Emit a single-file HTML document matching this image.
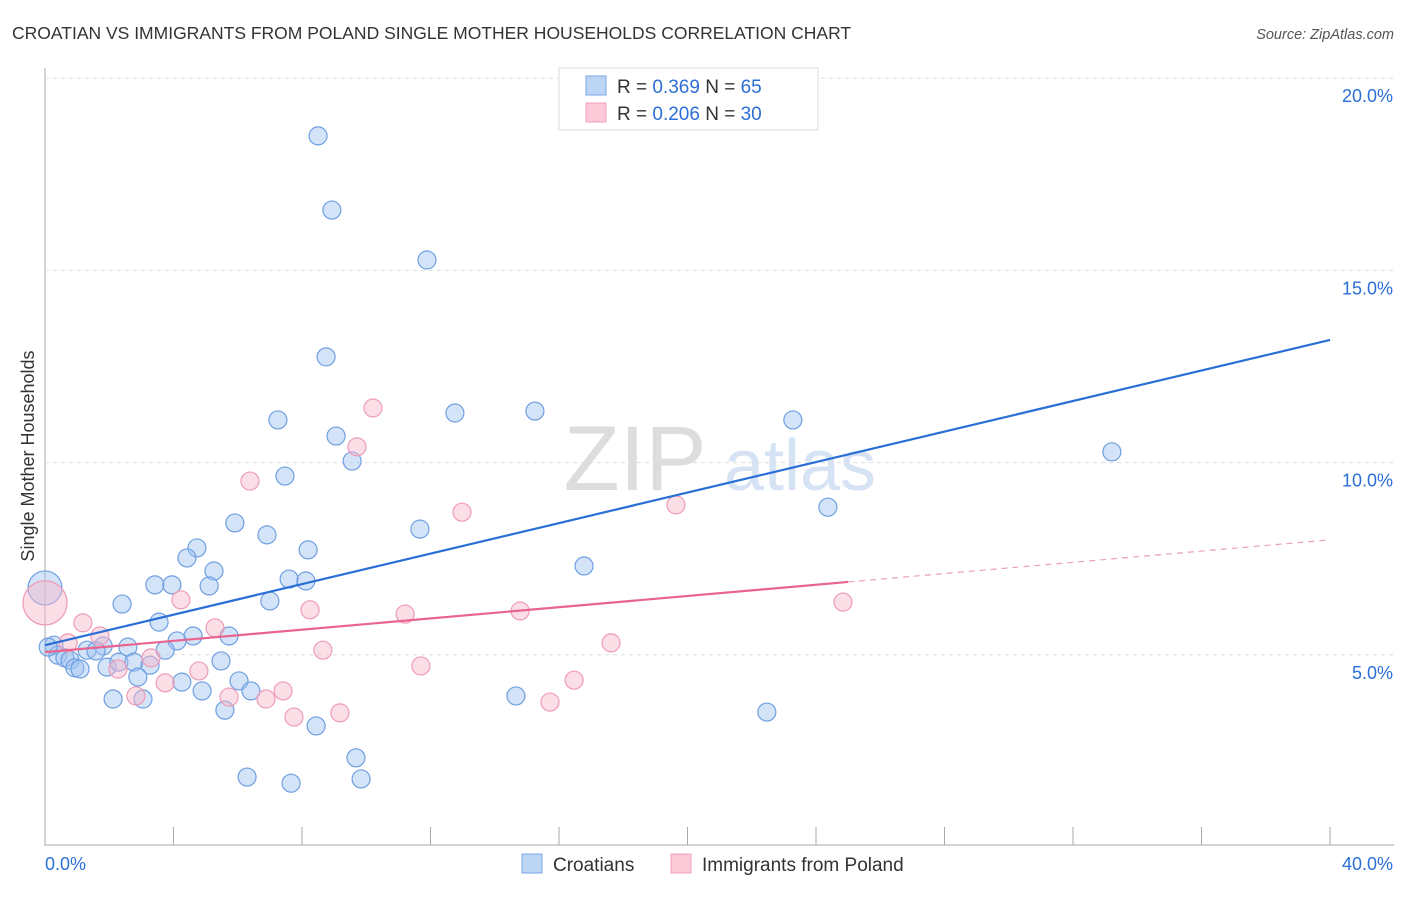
<!DOCTYPE html>
<html><head><meta charset="utf-8"><style>
body{margin:0;background:#fff;font-family:"Liberation Sans",sans-serif}
svg text{font-family:"Liberation Sans",sans-serif}
</style></head><body>
<svg id="chart" width="1406" height="892" xmlns="http://www.w3.org/2000/svg">
<text x="12" y="39" font-size="17.5" fill="#333">CROATIAN VS IMMIGRANTS FROM POLAND SINGLE MOTHER HOUSEHOLDS CORRELATION CHART</text>
<text x="1394" y="39" font-size="14.5" fill="#555" font-style="italic" text-anchor="end">Source: ZipAtlas.com</text>
<text x="34" y="456" font-size="18" fill="#333" text-anchor="middle" transform="rotate(-90 34 456)">Single Mother Households</text>
<g><text x="635" y="490" font-size="92" fill="#ddd" font-family="Liberation Serif" text-anchor="middle">ZIP</text><text x="800" y="490" font-size="72" fill="#d5e3f5" text-anchor="middle">atlas</text></g>
<g id="grid"></g><g id="pts"></g><g id="lines"></g>
<g>
<rect x="559" y="68" width="259" height="62" fill="#fff" stroke="#ddd"/>
<rect x="586" y="76" width="20" height="19" fill="#bcd5f5" stroke="#7aa6e6"/>
<rect x="586" y="103" width="20" height="19" fill="#fbc9d8" stroke="#f0a0b8"/>
<text x="617" y="93" font-size="19" fill="#333">R = <tspan fill="#2b6fd6">0.369</tspan>   N = <tspan fill="#2b6fd6">65</tspan></text>
<text x="617" y="120" font-size="19" fill="#333">R = <tspan fill="#2b6fd6">0.206</tspan>   N = <tspan fill="#2b6fd6">30</tspan></text>
</g>
<g>
<rect x="522" y="854" width="20" height="19" fill="#bcd5f5" stroke="#7aa6e6"/>
<text x="553" y="871" font-size="19" fill="#333">Croatians</text>
<rect x="671" y="854" width="20" height="19" fill="#fbc9d8" stroke="#f0a0b8"/>
<text x="702" y="871" font-size="19" fill="#333">Immigrants from Poland</text>
</g>
</svg>
<script>
const xTicks=[0,4,8,12,16,20,24,28,32,36,40];
const yTicks=[5,10,15,20];
const blueX=[8.50,8.93,11.89,8.75,7.25,12.76,15.25,9.06,9.56,23.28,33.21,7.47,24.37,5.91,11.67,6.91,4.73,8.19,4.42,5.26,7.60,8.12,3.42,3.95,5.11,16.78,2.40,7.00,3.55,4.61,5.73,4.11,2.58,3.74,1.81,1.31,1.59,0.28,0.40,0.62,0.78,0.93,1.09,1.93,2.30,2.77,3.27,5.48,2.89,4.26,6.04,4.89,6.41,2.12,3.05,5.60,14.66,22.47,8.44,9.68,6.29,7.66,9.84,0.1];
const blueY=[18.50,16.57,15.27,12.75,11.11,11.29,11.34,10.69,10.04,11.11,10.28,9.65,8.84,8.43,8.27,8.12,7.78,7.73,7.52,7.18,6.97,6.92,6.82,6.82,6.79,7.31,6.32,6.40,5.85,5.49,5.49,5.36,5.20,5.12,5.23,5.12,5.10,5.25,4.99,4.92,4.86,4.66,4.63,4.68,4.81,4.81,4.73,4.84,4.42,4.29,4.32,4.06,4.06,3.85,3.85,3.56,3.93,3.51,3.15,2.32,1.82,1.66,1.77,5.2];
const pinkX=[1.18,1.71,0.72,3.30,2.27,4.79,3.74,2.83,5.73,6.88,7.41,4.23,5.29,6.38,8.25,8.65,7.75,9.18,9.71,10.21,11.21,11.70,12.98,14.79,16.47,15.72,17.62,19.64,24.84];
const pinkY=[5.83,5.49,5.31,4.92,4.63,4.58,4.27,3.93,3.90,3.85,4.06,6.43,5.70,9.52,6.17,5.12,3.38,3.49,10.41,11.42,6.06,4.71,8.71,6.14,4.34,3.77,5.31,8.90,6.37];
const blueBig=[0,6.74];const pinkBig=[0,6.35];
const blueTrend=[5.25,13.19];const pinkTrend=[5.07,7.99];const pinkSolidEnd=25;
const X=v=>45+v*32.125, Y=v=>847-v*38.44;
const NS="http://www.w3.org/2000/svg";
function mk(t,a,p){const e=document.createElementNS(NS,t);for(const k in a)e.setAttribute(k,a[k]);p.appendChild(e);return e;}
const g=document.getElementById('grid'),P=document.getElementById('pts'),L=document.getElementById('lines');
mk('line',{x1:45,y1:68,x2:45,y2:846,stroke:'#aaa'},g);
mk('line',{x1:45,y1:845,x2:1394,y2:845,stroke:'#aaa'},g);
for(const t of yTicks){const l=mk('line',{x1:45,y1:Y(t),x2:1394,y2:Y(t),stroke:'#ddd','stroke-dasharray':'4,4'},g);


const tx=mk('text',{x:1393,y:Y(t)+24,'font-size':18,fill:'#2b6fd6','text-anchor':'end'},g);tx.textContent=t.toFixed(1)+'%';

}
for(const t of xTicks){const l=mk('line',{x1:X(t),y1:827,x2:X(t),y2:845,stroke:'#aaa'},g);

}
const x0=mk('text',{x:45,y:870,'font-size':18,fill:'#2b6fd6'},g);x0.textContent='0.0%';


const x1=mk('text',{x:1393,y:870,'font-size':18,fill:'#2b6fd6','text-anchor':'end'},g);x1.textContent='40.0%';


function dot(x,y,r,c){const e=mk('circle',{cx:X(x),cy:Y(y),r:r,fill:c[0],stroke:c[1],'stroke-width':1.2},P);return e;}
const bc=['rgba(160,196,240,0.45)','#6f9fe2'],pc=['rgba(248,182,202,0.45)','#ee9cb6'];
let e=dot(blueBig[0],blueBig[1],17,bc);


e=dot(pinkBig[0],pinkBig[1],22,pc);


blueX.forEach((x,i)=>{const d=dot(x,blueY[i],9,bc);

});
pinkX.forEach((x,i)=>{const d=dot(x,pinkY[i],9,pc);

});
let bl=mk('line',{x1:X(0),y1:Y(blueTrend[0]),x2:X(40),y2:Y(blueTrend[1]),stroke:'#2a6fd6','stroke-width':2.2},L);


const pm=pinkTrend[0]+(pinkTrend[1]-pinkTrend[0])*pinkSolidEnd/40;
let pl=mk('line',{x1:X(0),y1:Y(pinkTrend[0]),x2:X(pinkSolidEnd),y2:Y(pm),stroke:'#e8648f','stroke-width':2.2},L);


let pd=mk('line',{x1:X(pinkSolidEnd),y1:Y(pm),x2:X(40),y2:Y(pinkTrend[1]),stroke:'#e8a0b8','stroke-width':1.2,'stroke-dasharray':'6,5'},L);


</script>
</body></html>
